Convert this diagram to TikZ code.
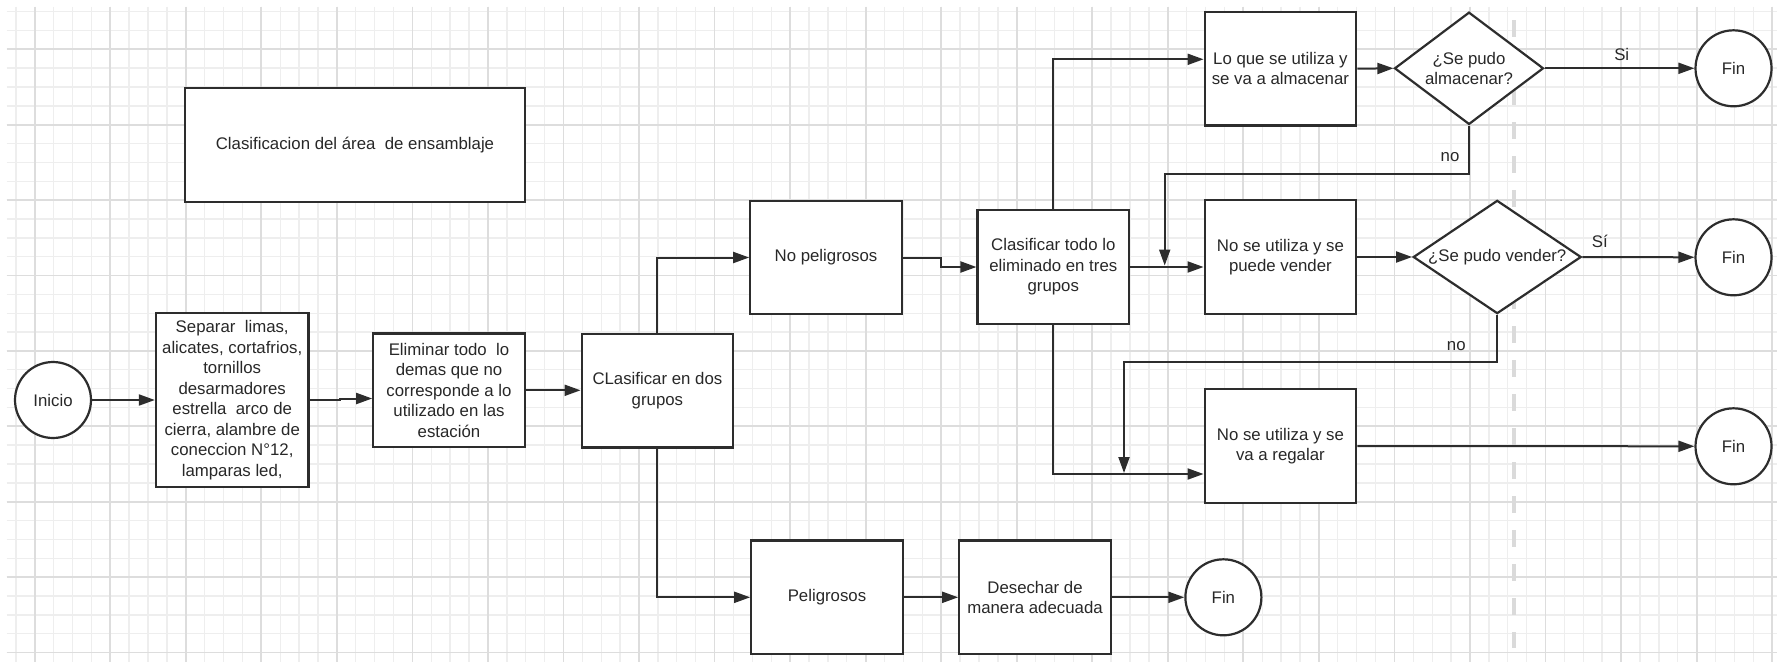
\documentclass[tikz,border=0pt]{standalone}
\usepackage{fontspec}
\setmainfont{Liberation Sans}
\usetikzlibrary{arrows.meta,shapes.geometric}

\definecolor{ink}{RGB}{45,45,45}
\definecolor{txt}{RGB}{40,40,40}
\definecolor{gridminor}{RGB}{238,238,238}
\definecolor{gridmajor}{RGB}{221,221,221}
\definecolor{guide}{RGB}{218,218,218}

\begin{document}
\begin{tikzpicture}[x=1pt,y=-1pt,
  every node/.style={font=\fontsize{16.8pt}{20.5pt}\selectfont, text=txt},
  box/.style={draw=ink, line width=2.2pt, fill=white, rectangle,
    minimum width=151.5pt, minimum height=113.5pt, inner sep=0pt, align=center},
  term/.style={draw=ink, line width=2.2pt, fill=white, circle,
    minimum size=76pt, inner sep=0pt},
  decision/.style={draw=ink, line width=2.2pt, fill=white, diamond,
    inner sep=0pt, align=center},
  flow/.style={draw=ink, line width=2pt, -{Triangle[length=16pt,width=11pt]}},
  lbl/.style={inner sep=0pt},
  minorgrid/.style={draw=gridminor, line width=1.4pt},
  majorgrid/.style={draw=gridmajor, line width=1.8pt},
]
% page and background
\useasboundingbox (0,0) rectangle (1777,662);
\fill[white] (0,0) rectangle (1777,662);

% squared paper: minor lines, then every fourth line darker
\foreach \k in {-1,...,92}
  \draw[minorgrid] ({34.7+18.885*\k},6.7) -- ({34.7+18.885*\k},662);
\foreach \k in {-2,...,32}
  \draw[minorgrid] (6.7,{49.3+18.85*\k}) -- (1777,{49.3+18.85*\k});
\foreach \k in {0,...,23}
  \draw[majorgrid] ({34.7+75.54*\k},6.7) -- ({34.7+75.54*\k},662);
\foreach \k in {0,...,8}
  \draw[majorgrid] (6.7,{49.3+75.4*\k}) -- (1777,{49.3+75.4*\k});

% dashed page guide
\draw[guide, line width=3.5pt, dash pattern=on 16.7pt off 17.3pt] (1514,20) -- (1514,648);

% title
\node[box, minimum width=340pt, minimum height=113.4pt] (title) at (355,145)
  {Clasificacion del área\ \ de ensamblaje};

% main chain
\node[term] (inicio) at (53,400) {Inicio};
\node[box, minimum width=152.5pt, minimum height=173.4pt] (separar) at (232.2,400)
  {Separar\ \ limas,\\alicates, cortafrios,\\tornillos\\desarmadores\\estrella\ \ arco de\\cierra, alambre de\\coneccion N°12,\\lamparas led,};
\node[box] (eliminar) at (449,390.3)
  {Eliminar todo\ \ lo\\demas que no\\corresponde a lo\\utilizado en las\\estación};
\node[box] (dos) at (657.4,390.7) {CLasificar en dos\\grupos};
\node[box] (nopel) at (826,257.5) {No peligrosos};
\node[box] (pel) at (827,597.3) {Peligrosos};
\node[box] (desechar) at (1035,597.3) {Desechar de\\manera adecuada};
\node[term] (fin0) at (1223.4,597.3) {Fin};
\node[box] (tres) at (1053.3,267) {Clasificar todo lo\\eliminado en tres\\grupos};

% three groups
\node[box] (almacen) at (1280.4,68.7) {Lo que se utiliza y\\se va a almacenar};
\node[decision, minimum width=149pt, minimum height=112.3pt, aspect=1.33] (q1) at (1469,68.3)
  {¿Se pudo\\almacenar?};
\node[term] (fin1) at (1733.5,68.3) {Fin};
\node[box] (vender) at (1280.4,257) {No se utiliza y se\\puede vender};
\node[decision, minimum width=168pt, minimum height=113.3pt, aspect=1.48] (q2) at (1497.2,257)
  {¿Se pudo vender?};
\node[term] (fin2) at (1733.5,257.3) {Fin};
\node[box] (regalar) at (1280.4,446) {No se utiliza y se\\va a regalar};
\node[term] (fin3) at (1733.5,446.3) {Fin};

% connectors
\draw[flow] (inicio.east) -- (separar.west);
\coordinate (jog) at (340,398.5);
\draw[flow] (separar.east) -- (jog |- separar.east) -- (jog) -- (jog -| eliminar.west);
\draw[flow] (eliminar.east) -- (dos.west |- eliminar.east);
\draw[flow] (dos.north) |- (nopel.west);
\draw[flow] (dos.south) |- (pel.west);
\draw[flow] (nopel.east) -- ++(38.3,0) |- (tres.west);
\draw[flow] (pel.east) -- (desechar.west |- pel.east);
\draw[flow] (desechar.east) -- (fin0.west);

\draw[flow] (tres.north) |- ([yshift=9.4pt]almacen.west);
\draw[flow] (almacen.east) -- (q1.west);
\draw[flow] (q1.east) -- (fin1.west);
\node[lbl] (si1) at (1621.7,54) {Si};
\coordinate (no1end) at (1164.7,265.5);
\draw[flow] (q1.south) -- ++(0,48.3) -| (no1end);
\node[lbl] (no1) at (1450,156.7) {no};

\draw[flow] (tres.east) -- (tres.east -| vender.west);
\draw[flow] (vender.east) -- (q2.west);
\draw[flow] (q2.east) -- (fin2.west);
\node[lbl] (si2) at (1599.8,241.7) {Sí};
\coordinate (no2end) at (1124,473);
\draw[flow] (q2.south) -- ++(0,47.7) -| (no2end);
\node[lbl] (no2) at (1456.3,345.7) {no};

\draw[flow] (tres.south) |- ([yshift=-28pt]regalar.west);
\draw[flow] (regalar.east) -- (fin3.west);
\end{tikzpicture}
\end{document}
